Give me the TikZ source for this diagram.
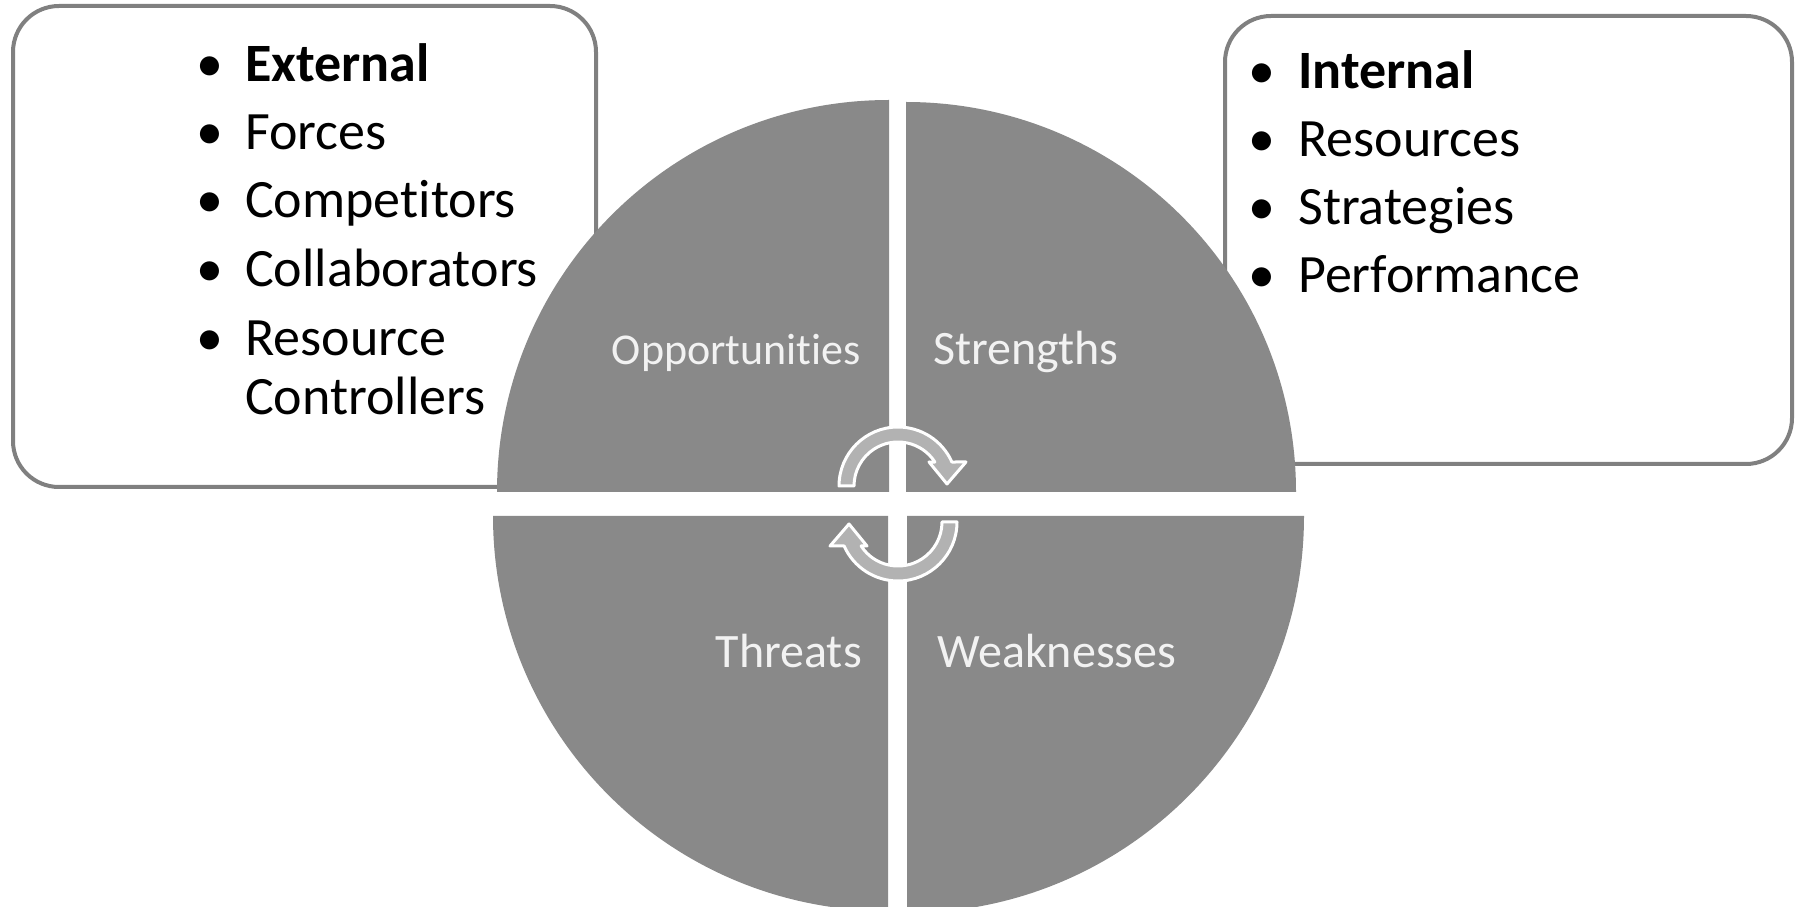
\documentclass[tikz,border=0pt]{standalone}
\usepackage{fontspec}
\setmainfont{Carlito}[Ligatures=NoCommon]
\usetikzlibrary{positioning}

\definecolor{quadgray}{RGB}{137,137,137}
\definecolor{boxline}{RGB}{128,128,128}
\definecolor{turngray}{RGB}{178,178,178}

\tikzset{
  listbox/.style={draw=boxline, line width=4pt, rounded corners=46pt, fill=white, anchor=south west},
  quad/.style={fill=quadgray},
  item/.style={anchor=base west, inner sep=0pt, font=\fontsize{54}{58}\selectfont},
  bul/.style={anchor=base, inner sep=0pt, font=\fontsize{54}{58}\selectfont},
  qlabel/.style={inner sep=0pt, text=white!95!black, font=\fontsize{48}{52}\selectfont},
  turn/.style={fill=turngray, draw=white, line width=3pt, line join=round}
}

\begin{document}
\begin{tikzpicture}[x=1pt,y=1pt]
  \useasboundingbox (0,0) rectangle (1797,906);
  \clip (0,0) rectangle (1797,906);

  % the two lists behind the circle
  \node (extbox) [listbox, minimum width=583pt, minimum height=481pt] at (11,417) {};
  \node (intbox) [listbox, minimum width=567pt, minimum height=448pt] at (1223,440) {};

  \node (eb1) [bul] at (210,824) {\textbullet};
  \node (eb2) [bul] at (210,756) {\textbullet};
  \node (eb3) [bul] at (210,688) {\textbullet};
  \node (eb4) [bul] at (210,619) {\textbullet};
  \node (eb5) [bul] at (210,550) {\textbullet};
  \node (external) [item] at (245,824) {\textbf{External}};
  \node (forces) [item] at (245,756) {Forces};
  \node (competitors) [item] at (245,688) {Competitors};
  \node (collab) [item] at (245,619) {Collaborators};
  \node (rescontrol) [item] at (245,550) {Resource};
  \node (rescontrol2) [item] at (245,491) {Controllers};

  \node (ib1) [bul] at (1262,817) {\textbullet};
  \node (ib2) [bul] at (1262,749) {\textbullet};
  \node (ib3) [bul] at (1262,681) {\textbullet};
  \node (ib4) [bul] at (1262,613) {\textbullet};
  \node (internal) [item] at (1298,817) {\textbf{Internal}};
  \node (resources) [item] at (1298,749) {Resources};
  \node (strategies) [item] at (1298,681) {Strategies};
  \node (performance) [item] at (1298,613) {Performance};

  % four quarters of the circle
  \fill[quad] (889,414) -- ++(-392,0) arc[start angle=180, end angle=90, radius=392pt] -- cycle;
  \fill[quad] (906,414) -- ++(390,0) arc[start angle=0, end angle=90, radius=390pt] -- cycle;
  \fill[quad] (888,390) -- ++(-395,0) arc[start angle=180, end angle=270, radius=395pt] -- cycle;
  \fill[quad] (907,390) -- ++(397,0) arc[start angle=0, end angle=-90, radius=397pt] -- cycle;

  \node (opp) [qlabel, anchor=base east, font=\fontsize{44}{50}\selectfont] at (861,541) {Opportunities};
  \node (str) [qlabel, anchor=base west] at (933,541) {Strengths};
  \node (thr) [qlabel, anchor=base east] at (862,239) {Threats};
  \node (weak) [qlabel, anchor=base west] at (937,239) {Weaknesses};

  % turning arrows in the middle
  \foreach \r in {0,180}
    \draw[turn, rotate around={\r:(898,402)}, shift={(898,420)}]
      (180:59) arc[start angle=180, end angle=24, radius=59pt]
      -- (68,24) -- (49,2) -- (31,24) -- (33:44)
      arc[start angle=33, end angle=180, radius=44pt] -- cycle;
\end{tikzpicture}
\end{document}
